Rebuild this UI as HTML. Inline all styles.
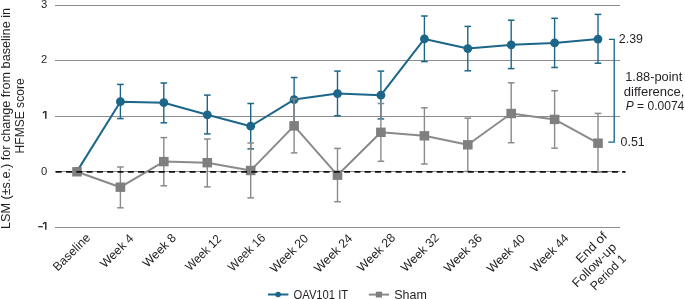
<!DOCTYPE html>
<html><head><meta charset="utf-8"><style>
html,body{margin:0;padding:0;background:#fff;width:685px;height:299px;overflow:hidden}
svg text{font-family:"Liberation Sans", sans-serif}
svg{will-change:transform}
</style></head><body>
<svg width="685" height="299" viewBox="0 0 685 299" style="display:block">
<line x1="55" y1="5.5" x2="620" y2="5.5" stroke="#8c8c8c" stroke-width="1.05"/>
<line x1="55" y1="60.5" x2="620" y2="60.5" stroke="#8c8c8c" stroke-width="1.05"/>
<line x1="55" y1="116.5" x2="620" y2="116.5" stroke="#8c8c8c" stroke-width="1.05"/>
<line x1="55" y1="227.5" x2="620" y2="227.5" stroke="#8c8c8c" stroke-width="1.05"/>
<text x="47.2" y="7.9" font-size="11.2" text-anchor="end" fill="#231f20">3</text>
<text x="47.2" y="63.0" font-size="11.2" text-anchor="end" fill="#231f20">2</text>
<text x="47.2" y="174.7" font-size="11.2" text-anchor="end" fill="#231f20">0</text>
<path d="M45.1,118.7 V111.1 H46.5 V118.7 Z" fill="#231f20"/><path d="M45.2,111.2 L42.9,113.0" stroke="#231f20" stroke-width="1.2" fill="none"/>
<path d="M45.1,229.7 V222.1 H46.5 V229.7 Z" fill="#231f20"/><path d="M45.2,222.2 L42.9,224.0" stroke="#231f20" stroke-width="1.2" fill="none"/>
<rect x="38.2" y="226.1" width="4.6" height="1.2" fill="#231f20"/>
<text transform="translate(9.8,118.5) rotate(-90)" font-size="12.4" text-anchor="middle" fill="#231f20" textLength="221" lengthAdjust="spacingAndGlyphs">LSM (±s.e.) for change from baseline in</text>
<text transform="translate(24.0,115.9) rotate(-90)" font-size="12.0" text-anchor="middle" fill="#231f20" textLength="75" lengthAdjust="spacingAndGlyphs">HFMSE score</text>
<line x1="55" y1="171.5" x2="620" y2="171.5" stroke="#8c8c8c" stroke-width="1.05"/>
<polyline points="77.0,171.4 120.4,101.7 163.8,102.7 207.3,114.8 250.7,126.2 294.1,99.6 337.5,93.6 380.9,95.2 424.4,38.9 467.8,48.6 511.2,44.8 554.6,42.9 598.0,39.1" fill="none" stroke="#1b6689" stroke-width="2" stroke-linejoin="round"/>
<line x1="120.4" y1="84.4" x2="120.4" y2="118.6" stroke="#1b6689" stroke-width="1.4"/>
<line x1="117.1" y1="84.4" x2="123.7" y2="84.4" stroke="#1b6689" stroke-width="1.5"/>
<line x1="117.1" y1="118.6" x2="123.7" y2="118.6" stroke="#1b6689" stroke-width="1.5"/>
<line x1="163.8" y1="83.0" x2="163.8" y2="122.8" stroke="#1b6689" stroke-width="1.4"/>
<line x1="160.5" y1="83.0" x2="167.1" y2="83.0" stroke="#1b6689" stroke-width="1.5"/>
<line x1="160.5" y1="122.8" x2="167.1" y2="122.8" stroke="#1b6689" stroke-width="1.5"/>
<line x1="207.3" y1="95.1" x2="207.3" y2="133.9" stroke="#1b6689" stroke-width="1.4"/>
<line x1="204.0" y1="95.1" x2="210.6" y2="95.1" stroke="#1b6689" stroke-width="1.5"/>
<line x1="204.0" y1="133.9" x2="210.6" y2="133.9" stroke="#1b6689" stroke-width="1.5"/>
<line x1="250.7" y1="103.5" x2="250.7" y2="148.9" stroke="#1b6689" stroke-width="1.4"/>
<line x1="247.4" y1="103.5" x2="254.0" y2="103.5" stroke="#1b6689" stroke-width="1.5"/>
<line x1="247.4" y1="148.9" x2="254.0" y2="148.9" stroke="#1b6689" stroke-width="1.5"/>
<line x1="294.1" y1="77.5" x2="294.1" y2="122.3" stroke="#1b6689" stroke-width="1.4"/>
<line x1="290.8" y1="77.5" x2="297.4" y2="77.5" stroke="#1b6689" stroke-width="1.5"/>
<line x1="290.8" y1="122.3" x2="297.4" y2="122.3" stroke="#1b6689" stroke-width="1.5"/>
<line x1="337.5" y1="71.1" x2="337.5" y2="115.7" stroke="#1b6689" stroke-width="1.4"/>
<line x1="334.2" y1="71.1" x2="340.8" y2="71.1" stroke="#1b6689" stroke-width="1.5"/>
<line x1="334.2" y1="115.7" x2="340.8" y2="115.7" stroke="#1b6689" stroke-width="1.5"/>
<line x1="380.9" y1="71.1" x2="380.9" y2="118.9" stroke="#1b6689" stroke-width="1.4"/>
<line x1="377.6" y1="71.1" x2="384.2" y2="71.1" stroke="#1b6689" stroke-width="1.5"/>
<line x1="377.6" y1="118.9" x2="384.2" y2="118.9" stroke="#1b6689" stroke-width="1.5"/>
<line x1="424.4" y1="16.0" x2="424.4" y2="61.6" stroke="#1b6689" stroke-width="1.4"/>
<line x1="421.1" y1="16.0" x2="427.7" y2="16.0" stroke="#1b6689" stroke-width="1.5"/>
<line x1="421.1" y1="61.6" x2="427.7" y2="61.6" stroke="#1b6689" stroke-width="1.5"/>
<line x1="467.8" y1="26.4" x2="467.8" y2="70.8" stroke="#1b6689" stroke-width="1.4"/>
<line x1="464.5" y1="26.4" x2="471.1" y2="26.4" stroke="#1b6689" stroke-width="1.5"/>
<line x1="464.5" y1="70.8" x2="471.1" y2="70.8" stroke="#1b6689" stroke-width="1.5"/>
<line x1="511.2" y1="20.2" x2="511.2" y2="68.6" stroke="#1b6689" stroke-width="1.4"/>
<line x1="507.9" y1="20.2" x2="514.5" y2="20.2" stroke="#1b6689" stroke-width="1.5"/>
<line x1="507.9" y1="68.6" x2="514.5" y2="68.6" stroke="#1b6689" stroke-width="1.5"/>
<line x1="554.6" y1="18.3" x2="554.6" y2="67.5" stroke="#1b6689" stroke-width="1.4"/>
<line x1="551.3" y1="18.3" x2="557.9" y2="18.3" stroke="#1b6689" stroke-width="1.5"/>
<line x1="551.3" y1="67.5" x2="557.9" y2="67.5" stroke="#1b6689" stroke-width="1.5"/>
<line x1="598.0" y1="14.4" x2="598.0" y2="63.2" stroke="#1b6689" stroke-width="1.4"/>
<line x1="594.7" y1="14.4" x2="601.3" y2="14.4" stroke="#1b6689" stroke-width="1.5"/>
<line x1="594.7" y1="63.2" x2="601.3" y2="63.2" stroke="#1b6689" stroke-width="1.5"/>
<circle cx="77.0" cy="171.4" r="4.4" fill="#1b6689"/>
<circle cx="120.4" cy="101.7" r="4.4" fill="#1b6689"/>
<circle cx="163.8" cy="102.7" r="4.4" fill="#1b6689"/>
<circle cx="207.3" cy="114.8" r="4.4" fill="#1b6689"/>
<circle cx="250.7" cy="126.2" r="4.4" fill="#1b6689"/>
<circle cx="294.1" cy="99.6" r="4.4" fill="#1b6689"/>
<circle cx="337.5" cy="93.6" r="4.4" fill="#1b6689"/>
<circle cx="380.9" cy="95.2" r="4.4" fill="#1b6689"/>
<circle cx="424.4" cy="38.9" r="4.4" fill="#1b6689"/>
<circle cx="467.8" cy="48.6" r="4.4" fill="#1b6689"/>
<circle cx="511.2" cy="44.8" r="4.4" fill="#1b6689"/>
<circle cx="554.6" cy="42.9" r="4.4" fill="#1b6689"/>
<circle cx="598.0" cy="39.1" r="4.4" fill="#1b6689"/>
<polyline points="77.0,171.8 120.4,187.2 163.8,161.6 207.3,162.7 250.7,170.5 294.1,125.9 337.5,175.2 380.9,132.3 424.4,135.8 467.8,144.8 511.2,113.5 554.6,119.4 598.0,143.2" fill="none" stroke="#8a8a8a" stroke-width="2" stroke-linejoin="round"/>
<line x1="120.4" y1="167.0" x2="120.4" y2="207.8" stroke="#8a8a8a" stroke-width="1.4"/>
<line x1="117.1" y1="167.0" x2="123.7" y2="167.0" stroke="#8a8a8a" stroke-width="1.5"/>
<line x1="117.1" y1="207.8" x2="123.7" y2="207.8" stroke="#8a8a8a" stroke-width="1.5"/>
<line x1="163.8" y1="137.6" x2="163.8" y2="185.8" stroke="#8a8a8a" stroke-width="1.4"/>
<line x1="160.5" y1="137.6" x2="167.1" y2="137.6" stroke="#8a8a8a" stroke-width="1.5"/>
<line x1="160.5" y1="185.8" x2="167.1" y2="185.8" stroke="#8a8a8a" stroke-width="1.5"/>
<line x1="207.3" y1="139.0" x2="207.3" y2="186.9" stroke="#8a8a8a" stroke-width="1.4"/>
<line x1="204.0" y1="139.0" x2="210.6" y2="139.0" stroke="#8a8a8a" stroke-width="1.5"/>
<line x1="204.0" y1="186.9" x2="210.6" y2="186.9" stroke="#8a8a8a" stroke-width="1.5"/>
<line x1="250.7" y1="143.0" x2="250.7" y2="197.9" stroke="#8a8a8a" stroke-width="1.4"/>
<line x1="247.4" y1="143.0" x2="254.0" y2="143.0" stroke="#8a8a8a" stroke-width="1.5"/>
<line x1="247.4" y1="197.9" x2="254.0" y2="197.9" stroke="#8a8a8a" stroke-width="1.5"/>
<line x1="294.1" y1="98.9" x2="294.1" y2="152.9" stroke="#8a8a8a" stroke-width="1.4"/>
<line x1="290.8" y1="98.9" x2="297.4" y2="98.9" stroke="#8a8a8a" stroke-width="1.5"/>
<line x1="290.8" y1="152.9" x2="297.4" y2="152.9" stroke="#8a8a8a" stroke-width="1.5"/>
<line x1="337.5" y1="148.4" x2="337.5" y2="201.7" stroke="#8a8a8a" stroke-width="1.4"/>
<line x1="334.2" y1="148.4" x2="340.8" y2="148.4" stroke="#8a8a8a" stroke-width="1.5"/>
<line x1="334.2" y1="201.7" x2="340.8" y2="201.7" stroke="#8a8a8a" stroke-width="1.5"/>
<line x1="380.9" y1="103.5" x2="380.9" y2="161.3" stroke="#8a8a8a" stroke-width="1.4"/>
<line x1="377.6" y1="103.5" x2="384.2" y2="103.5" stroke="#8a8a8a" stroke-width="1.5"/>
<line x1="377.6" y1="161.3" x2="384.2" y2="161.3" stroke="#8a8a8a" stroke-width="1.5"/>
<line x1="424.4" y1="107.8" x2="424.4" y2="164.0" stroke="#8a8a8a" stroke-width="1.4"/>
<line x1="421.1" y1="107.8" x2="427.7" y2="107.8" stroke="#8a8a8a" stroke-width="1.5"/>
<line x1="421.1" y1="164.0" x2="427.7" y2="164.0" stroke="#8a8a8a" stroke-width="1.5"/>
<line x1="467.8" y1="118.2" x2="467.8" y2="171.4" stroke="#8a8a8a" stroke-width="1.4"/>
<line x1="464.5" y1="118.2" x2="471.1" y2="118.2" stroke="#8a8a8a" stroke-width="1.5"/>
<line x1="464.5" y1="171.4" x2="471.1" y2="171.4" stroke="#8a8a8a" stroke-width="1.5"/>
<line x1="511.2" y1="82.8" x2="511.2" y2="142.7" stroke="#8a8a8a" stroke-width="1.4"/>
<line x1="507.9" y1="82.8" x2="514.5" y2="82.8" stroke="#8a8a8a" stroke-width="1.5"/>
<line x1="507.9" y1="142.7" x2="514.5" y2="142.7" stroke="#8a8a8a" stroke-width="1.5"/>
<line x1="554.6" y1="90.7" x2="554.6" y2="148.2" stroke="#8a8a8a" stroke-width="1.4"/>
<line x1="551.3" y1="90.7" x2="557.9" y2="90.7" stroke="#8a8a8a" stroke-width="1.5"/>
<line x1="551.3" y1="148.2" x2="557.9" y2="148.2" stroke="#8a8a8a" stroke-width="1.5"/>
<line x1="598.0" y1="113.4" x2="598.0" y2="172.2" stroke="#8a8a8a" stroke-width="1.4"/>
<line x1="594.7" y1="113.4" x2="601.3" y2="113.4" stroke="#8a8a8a" stroke-width="1.5"/>
<line x1="594.7" y1="172.2" x2="601.3" y2="172.2" stroke="#8a8a8a" stroke-width="1.5"/>
<rect x="72.2" y="167.1" width="9.6" height="9.4" fill="#7f7f7f"/>
<rect x="115.6" y="182.5" width="9.6" height="9.4" fill="#7f7f7f"/>
<rect x="159.0" y="156.9" width="9.6" height="9.4" fill="#7f7f7f"/>
<rect x="202.5" y="158.0" width="9.6" height="9.4" fill="#7f7f7f"/>
<rect x="245.9" y="165.8" width="9.6" height="9.4" fill="#7f7f7f"/>
<rect x="289.3" y="121.2" width="9.6" height="9.4" fill="#7f7f7f"/>
<rect x="332.7" y="170.5" width="9.6" height="9.4" fill="#7f7f7f"/>
<rect x="376.1" y="127.6" width="9.6" height="9.4" fill="#7f7f7f"/>
<rect x="419.6" y="131.1" width="9.6" height="9.4" fill="#7f7f7f"/>
<rect x="463.0" y="140.1" width="9.6" height="9.4" fill="#7f7f7f"/>
<rect x="506.4" y="108.8" width="9.6" height="9.4" fill="#7f7f7f"/>
<rect x="549.8" y="114.7" width="9.6" height="9.4" fill="#7f7f7f"/>
<rect x="593.2" y="138.5" width="9.6" height="9.4" fill="#7f7f7f"/>
<line x1="55.7" y1="171.9" x2="625.5" y2="171.9" stroke="#111" stroke-width="1.8" stroke-dasharray="6,4.3"/>
<polyline points="608.9,39.4 614.2,39.4 614.2,142.1 608.3,142.1" fill="none" stroke="#1b6689" stroke-width="1.35"/>
<text x="618.8" y="42.6" font-size="12.4" fill="#231f20">2.39</text>
<text x="620.6" y="146.2" font-size="12.4" fill="#231f20">0.51</text>
<text x="625.2" y="81.2" font-size="12.4" fill="#231f20" textLength="57.1" lengthAdjust="spacingAndGlyphs">1.88-point</text>
<text x="623.8" y="95.5" font-size="12.4" fill="#231f20" textLength="60.7" lengthAdjust="spacingAndGlyphs">difference,</text>
<text x="625.7" y="110.4" font-size="12.4" fill="#231f20" textLength="58.6" lengthAdjust="spacingAndGlyphs"><tspan font-style="italic">P</tspan> = 0.0074</text>
<text transform="translate(57.70,271.70) rotate(-45)" font-size="12.3" fill="#231f20">Baseline</text>
<text transform="translate(104.98,268.54) rotate(-45)" font-size="12.3" fill="#231f20">Week 4</text>
<text transform="translate(147.51,267.93) rotate(-45)" font-size="12.3" fill="#231f20">Week 8</text>
<text transform="translate(190.15,271.61) rotate(-45)" font-size="12.3" fill="#231f20" textLength="45.1" lengthAdjust="spacingAndGlyphs">Week 12</text>
<text transform="translate(232.80,271.88) rotate(-45)" font-size="12.3" fill="#231f20" textLength="47.1" lengthAdjust="spacingAndGlyphs">Week 16</text>
<text transform="translate(274.98,273.42) rotate(-45)" font-size="12.3" fill="#231f20">Week 20</text>
<text transform="translate(319.00,273.22) rotate(-45)" font-size="12.3" fill="#231f20">Week 24</text>
<text transform="translate(362.02,272.62) rotate(-45)" font-size="12.3" fill="#231f20">Week 28</text>
<text transform="translate(405.74,272.62) rotate(-45)" font-size="12.3" fill="#231f20">Week 32</text>
<text transform="translate(448.66,273.12) rotate(-45)" font-size="12.3" fill="#231f20">Week 36</text>
<text transform="translate(491.78,273.62) rotate(-45)" font-size="12.3" fill="#231f20">Week 40</text>
<text transform="translate(535.20,273.12) rotate(-45)" font-size="12.3" fill="#231f20">Week 44</text>
<text transform="translate(580.8,263.9) rotate(-45)" font-size="12.4" fill="#231f20" textLength="38.2" lengthAdjust="spacingAndGlyphs">End of</text>
<text transform="translate(577.0,288.0) rotate(-45)" font-size="12.4" fill="#231f20" textLength="56.7" lengthAdjust="spacingAndGlyphs">Follow-up</text>
<text transform="translate(595.3,291.1) rotate(-45)" font-size="12.4" fill="#231f20" textLength="44.6" lengthAdjust="spacingAndGlyphs">Period 1</text>
<line x1="268" y1="294.5" x2="288.4" y2="294.5" stroke="#1b6689" stroke-width="2"/>
<circle cx="278.1" cy="294.5" r="2.8" fill="#1b6689"/>
<text x="293.5" y="298.9" font-size="13.2" fill="#231f20" textLength="54.7" lengthAdjust="spacingAndGlyphs">OAV101 IT</text>
<line x1="368.8" y1="294.6" x2="389" y2="294.6" stroke="#8a8a8a" stroke-width="2"/>
<rect x="375.8" y="291.7" width="6.2" height="5.8" fill="#7f7f7f"/>
<text x="394.2" y="298.9" font-size="13.2" fill="#231f20" textLength="32.6" lengthAdjust="spacingAndGlyphs">Sham</text>
</svg>
</body></html>
